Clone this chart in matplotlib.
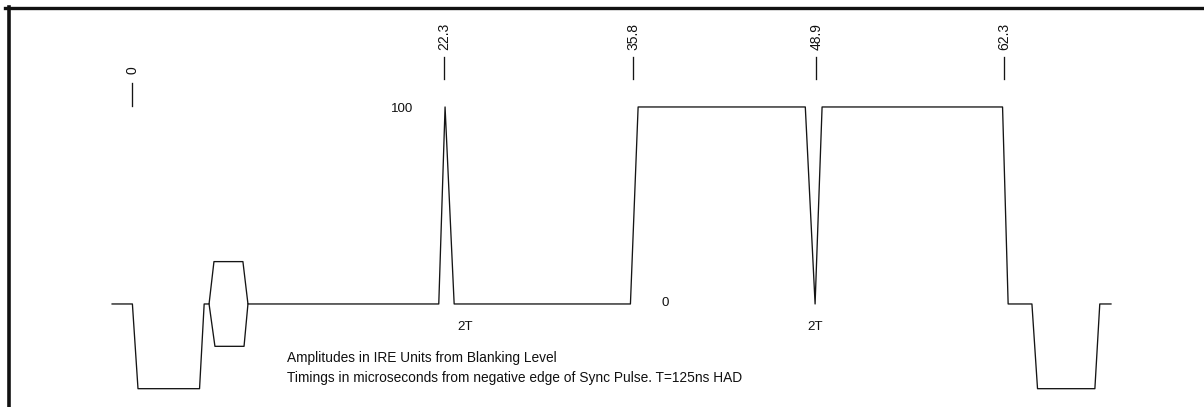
import matplotlib
matplotlib.use('Agg')
import matplotlib.pyplot as plt
from matplotlib.lines import Line2D

plt.rcParams['font.family'] = ['Liberation Sans', 'DejaVu Sans']

# test line waveform: time in microseconds, amplitude in IRE
trace_t = [-1.45, 0.0, 0.4, 4.8, 5.13, 5.48, 5.83, 7.9, 8.26, 21.9, 22.35, 23.0,
           35.6, 36.15, 48.1, 48.8, 49.3, 62.2, 62.6, 64.3, 64.7, 68.8, 69.15, 69.95]
trace_v = [0, 0, -43, -43, 0, 0, 21.5, 21.5, 0, 0, 100, 0,
           0, 100, 100, 0, 100, 100, 0, 0, -43, -43, 0, 0]

# lower half of colour burst envelope
burst_t = [5.48, 5.9, 7.98, 8.26]
burst_v = [0, -21.5, -21.5, 0]

# timing markers
mark_t = [0, 22.3, 35.8, 48.9, 62.3]
mark_lbl = ['0', '22.3', '35.8', '48.9', '62.3']

line_col = '#151515'
txt_col = '#111111'

fig = plt.figure(figsize=(12.04, 4.07), dpi=100)
ax = fig.add_axes([0, 0, 1, 1])
ax.set_xlim(-9.464, 76.6)
ax.set_ylim(-52.3, 154.3)
ax.axis('off')

ax.plot(trace_t, trace_v, color=line_col, lw=0.95)
ax.plot(burst_t, burst_v, color=line_col, lw=0.95)

for t, lbl in zip(mark_t, mark_lbl):
    if lbl == '0':
        ax.plot([t, t], [100.5, 112.2], color=line_col, lw=0.95)
        ax.text(t, 116.8, lbl, rotation=90, ha='center', va='bottom',
                fontsize=10, color=txt_col)
    else:
        ax.plot([t, t], [114.2, 125.4], color=line_col, lw=0.95)
        ax.text(t, 129, lbl, rotation=90, ha='center', va='bottom',
                fontsize=10, color=txt_col)

ax.text(19.28, 99, '100', ha='center', va='center', fontsize=9.6, color=txt_col)
ax.text(38.06, 0.5, '0', ha='center', va='center', fontsize=9.6, color=txt_col)
ax.text(23.77, -11.7, '2T', ha='center', va='center', fontsize=9.6, color=txt_col)
ax.text(48.79, -11.7, '2T', ha='center', va='center', fontsize=9.6, color=txt_col)

ax.text(11.05, -27.4, 'Amplitudes in IRE Units from Blanking Level',
        ha='left', va='center', fontsize=9.9, color=txt_col)
ax.text(11.05, -37.6, 'Timings in microseconds from negative edge of Sync Pulse. T=125ns HAD',
        ha='left', va='center', fontsize=9.9, color=txt_col)

# scanned frame: top and left edges only
W, H = 1204, 407
fig.add_artist(Line2D([5 / W, 1], [1 - 7.5 / H, 1 - 7.5 / H], color='#111', lw=2.4))
fig.add_artist(Line2D([8.5 / W, 8.5 / W], [1 - 6.5 / H, 0], color='#111', lw=2.6))

fig.savefig('out.png', dpi=100)
